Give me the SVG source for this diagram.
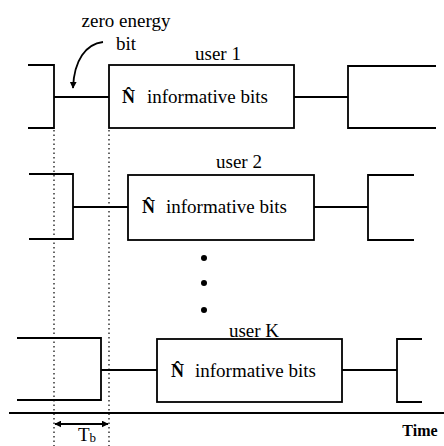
<svg xmlns="http://www.w3.org/2000/svg" width="444" height="446" viewBox="0 0 444 446">
  <style>
    .ln { fill: none; stroke: #000; stroke-width: 1.8; }
    .box { fill: #fff; stroke: #000; stroke-width: 1.8; }
    .dot { fill: none; stroke: #000; stroke-width: 1.2; stroke-dasharray: 1.5 3; }
    .t { font-family: "Liberation Serif", "Times New Roman", serif; font-size: 19px; fill: #000; }
    .nh { font-family: "Liberation Serif", "Times New Roman", serif; font-size: 18px; font-weight: bold; fill: #000; }
  </style>
  <defs>
    <marker id="ah" viewBox="0 0 10 10" refX="9" refY="5" markerWidth="7" markerHeight="7" orient="auto-start-reverse" markerUnits="userSpaceOnUse">
      <path d="M0,0 L10,5 L0,10 Z" fill="#000"/>
    </marker>
  </defs>
  <rect width="444" height="446" fill="#fff"/>

  <!-- dotted guides -->
  <g id="guides">
    <line class="dot" x1="54" y1="130" x2="54" y2="446"/>
    <line class="dot" x1="109" y1="130" x2="109" y2="446"/>
  </g>

  <!-- row 1 -->
  <g id="row1-prev"><path class="ln" d="M28,65 H54 V128 H28"/></g>
  <g id="user1">
    <rect class="box" x="109" y="65" width="185" height="63"/>
    <text class="t" x="218" y="60" text-anchor="middle">user 1</text>
    <text class="nh" x="122" y="103">N&#x302;</text>
    <text class="t" x="147" y="103">informative bits</text>
  </g>
  <g id="row1-next"><path class="ln" d="M436,66 H348 V128 H436"/></g>

  <!-- row 2 -->
  <g id="row2-prev"><path class="ln" d="M29,174 H73 V239 H29"/></g>
  <g id="user2">
    <rect class="box" x="128" y="175" width="186" height="65"/>
    <text class="t" x="239" y="168" text-anchor="middle">user 2</text>
    <text class="nh" x="142" y="213">N&#x302;</text>
    <text class="t" x="166" y="213">informative bits</text>
  </g>
  <g id="row2-next"><path class="ln" d="M414,175 H368 V240 H414"/></g>

  <!-- continuation dots -->
  <g id="ellipsis">
    <circle cx="204" cy="258" r="3"/>
    <circle cx="204" cy="283" r="3"/>
    <circle cx="204" cy="310" r="3"/>
  </g>

  <!-- row K -->
  <g id="rowK-prev"><path class="ln" d="M17,338 H101 V400 H17"/></g>
  <g id="userK">
    <rect class="box" x="157" y="339" width="185" height="63"/>
    <text class="t" x="254" y="337" text-anchor="middle">user K</text>
    <text class="nh" x="171" y="377">N&#x302;</text>
    <text class="t" x="195" y="377">informative bits</text>
  </g>
  <g id="rowK-next"><path class="ln" d="M422,339 H397 V402 H422"/></g>

  <!-- zero energy bit label -->
  <g id="zero-label">
    <text class="t" x="126" y="27" text-anchor="middle">zero energy</text>
    <text class="t" x="126" y="50" text-anchor="middle">bit</text>
  </g>

  <!-- time axis and Tb -->
  <g id="time-axis">
    <line class="ln" x1="9" y1="413" x2="444" y2="413"/>
    <text x="420" y="436" text-anchor="middle" font-family="Liberation Serif, Times New Roman, serif" font-size="16" font-weight="bold">Time</text>
  </g>
  <g id="tb-label">
    <text class="t" x="78" y="441" font-size="18">T<tspan font-size="13" dy="1">b</tspan></text>
  </g>

  <!-- connectors -->
  <g id="connectors">
    <line class="ln" x1="54" y1="97" x2="109" y2="97"/>
    <line class="ln" x1="294" y1="97" x2="348" y2="97"/>
    <line class="ln" x1="73" y1="207" x2="128" y2="207"/>
    <line class="ln" x1="314" y1="207" x2="368" y2="207"/>
    <line class="ln" x1="101" y1="370" x2="157" y2="370"/>
    <line class="ln" x1="342" y1="370" x2="397" y2="370"/>
    <path class="ln" d="M103,42 C86,44 74,60 73,88" marker-end="url(#ah)" stroke-width="1.6"/>
    <line class="ln" x1="55" y1="424" x2="108" y2="424" stroke-width="1.6" marker-start="url(#ah)" marker-end="url(#ah)"/>
  </g>
</svg>
